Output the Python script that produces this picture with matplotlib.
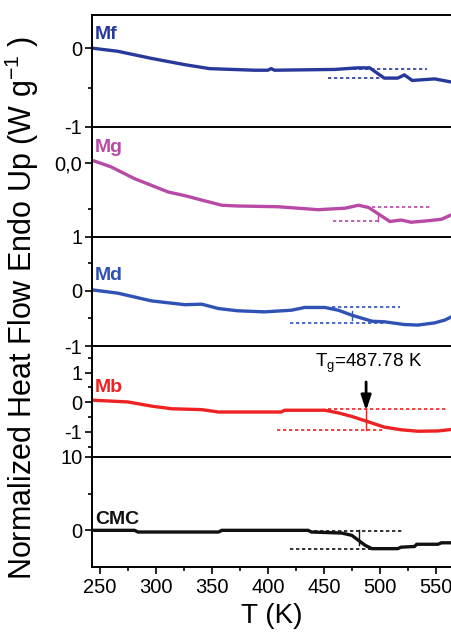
import numpy as np
import matplotlib
matplotlib.use('Agg')
import matplotlib.pyplot as plt
from matplotlib.ticker import FixedLocator, MultipleLocator

plt.rcParams['font.family'] = ['Liberation Sans', 'DejaVu Sans']

# DSC traces (T in K, normalized heat flow)
Mf_T = [243, 266, 296, 326, 348, 388, 400, 403, 406, 460, 480, 491, 498, 504, 516, 522, 529, 549, 564]
Mf_v = [0.0, -0.04, -0.13, -0.21, -0.26, -0.28, -0.28, -0.26, -0.28, -0.27, -0.25, -0.25, -0.32, -0.38,
        -0.38, -0.34, -0.41, -0.39, -0.43]

Mg_T = [243, 260, 281, 296, 311, 326, 341, 359, 373, 409, 445, 469, 481, 490, 498, 509, 519, 528, 543, 555, 564]
Mg_v = [-0.04, 0.05, 0.21, 0.30, 0.39, 0.44, 0.50, 0.57, 0.58, 0.59, 0.63, 0.61, 0.57, 0.60, 0.68, 0.79,
        0.77, 0.80, 0.78, 0.76, 0.70]

Md_T = [243, 266, 296, 326, 341, 356, 373, 397, 421, 433, 451, 463, 475, 493, 504, 522, 534, 549, 558, 564]
Md_v = [0.02, -0.04, -0.18, -0.25, -0.24, -0.32, -0.36, -0.38, -0.35, -0.30, -0.30, -0.35, -0.44, -0.55,
        -0.56, -0.61, -0.62, -0.58, -0.53, -0.47]

Mb_T = [243, 275, 296, 314, 341, 356, 412, 415, 451, 463, 475, 488, 504, 519, 534, 552, 564]
Mb_v = [0.07, 0.01, -0.13, -0.22, -0.25, -0.33, -0.33, -0.27, -0.27, -0.36, -0.48, -0.64, -0.84, -0.93,
        -0.98, -0.97, -0.92]

CMC_T = [243, 281, 284, 356, 359, 436, 439, 466, 475, 481, 487, 493, 516, 519, 531, 533, 552, 555, 564]
CMC_v = [0, 0, -0.23, -0.23, 0, 0, -0.23, -0.37, -0.68, -1.37, -2.05, -2.5, -2.5, -2.3, -2.2, -1.9, -1.9,
         -1.7, -1.7]

# onset baselines: (T start, T end, level)
Mf_base = [(460, 542, -0.26), (454, 502, -0.38)]
Mg_base = [(493, 545, 0.59), (458, 501, 0.79)]
Md_base = [(457, 518, -0.30), (420, 504, -0.59)]
Mb_base = [(454, 560, -0.23), (408, 504, -0.93)]
CMC_base = [(436, 521, -0.05), (420, 493, -2.5)]

# small vertical Tg marks: (T, low, high)
Mg_mark = (498, 0.68, 0.79)
Md_mark = (475, -0.53, -0.36)
Mb_mark = (487.78, -0.93, -0.23)
CMC_mark = (481, -2.05, 0.0)

Tg = 487.78

panels = [
    dict(name='Mf', T=Mf_T, v=Mf_v, base=Mf_base, mark=None, color='#27399a',
         ylim=(-1, 0.42), major=[0, -1], labels=['0', '-1'], minor=[-0.5], lab_y=0.06),
    dict(name='Mg', T=Mg_T, v=Mg_v, base=Mg_base, mark=Mg_mark, color='#b84aa6',
         ylim=(1.0, -0.49), major=[0, 1], labels=['0,0', '1'], minor=[0.62], lab_y=-0.1),
    dict(name='Md', T=Md_T, v=Md_v, base=Md_base, mark=Md_mark, color='#2f52b4',
         ylim=(-1, 0.98), major=[0, -1], labels=['0', '-1'], minor=[-0.5, 0.5], lab_y=0.13),
    dict(name='Mb', T=Mb_T, v=Mb_v, base=Mb_base, mark=Mb_mark, color='#ee2222',
         ylim=(-1.85, 1.9), major=[1, 0, -1], labels=['1', '0', '-1'], minor=[1.5, 0.5, -0.5, -1.5], lab_y=0.22),
    dict(name='CMC', T=CMC_T, v=CMC_v, base=CMC_base, mark=CMC_mark, color='#111111',
         ylim=(-5, 10), major=[10, 0], labels=['10', '0'], minor=[5], lab_y=0.35),
]

W, H = 452, 632
fig = plt.figure(figsize=(W / 100, H / 100), dpi=100)

edges = [15, 127, 237, 346, 457, 567]
left = 92 / W

for i, p in enumerate(panels):
    top = 1 - edges[i] / H
    bot = 1 - edges[i + 1] / H
    ax = fig.add_axes([left, bot, 1.0 - left, top - bot])
    ax.plot(p['T'], p['v'], color=p['color'], lw=2.4, solid_joinstyle='miter')
    for t0, t1, lev in p['base']:
        ax.plot([t0, t1], [lev, lev], color=p['color'], lw=1.2, ls=(0, (2, 1.6)))
    if p['mark'] is not None:
        t, lo, hi = p['mark']
        ax.plot([t, t], [lo, hi], color=p['color'], lw=1.0)
    ax.set_xlim(243, 564.5)
    ax.set_ylim(*p['ylim'])
    ax.yaxis.set_major_locator(FixedLocator(p['major']))
    ax.set_yticklabels(p['labels'])
    ax.yaxis.set_minor_locator(FixedLocator(p['minor']))
    ax.tick_params(axis='y', which='major', direction='out', length=5, width=1.2, labelsize=14.5, pad=2)
    ax.tick_params(axis='y', which='minor', direction='out', length=3, width=1.2)
    ax.spines['right'].set_visible(False)
    ax.spines['bottom'].set_visible(i == len(panels) - 1)
    for s in ['left', 'top', 'bottom']:
        ax.spines[s].set_linewidth(1.4)
    ax.text(245.5, p['lab_y'], p['name'], color=p['color'], fontsize=14,
            fontweight='bold', ha='left', va='bottom')
    if i < len(panels) - 1:
        ax.tick_params(axis='x', which='both', bottom=False, labelbottom=False)
    else:
        ax.xaxis.set_major_locator(MultipleLocator(50))
        ax.xaxis.set_minor_locator(MultipleLocator(25))
        ax.tick_params(axis='x', which='major', direction='out', length=5, width=1.2, labelsize=14.5, pad=3)
        ax.tick_params(axis='x', which='minor', direction='out', length=3, width=1.2)
        ax.set_xlabel('T (K)', fontsize=20, labelpad=4)
    if p['name'] == 'Mb':
        ax.annotate('', xy=(Tg, -0.38), xytext=(Tg, 0.78),
                    arrowprops=dict(arrowstyle='-|>,head_length=0.9,head_width=0.3',
                                    color='black', lw=2))
        ax.text(Tg + 2, 0.92, 'T$_\\mathregular{g}$=487.78 K', fontsize=13.5, ha='center', va='bottom')

fig.text(22 / W, 1 - 308 / H, 'Normalized Heat Flow Endo Up (W g$^{\\mathregular{-1}}$ )',
         rotation=90, fontsize=22, ha='center', va='center')

fig.savefig('out.png', dpi=100)
